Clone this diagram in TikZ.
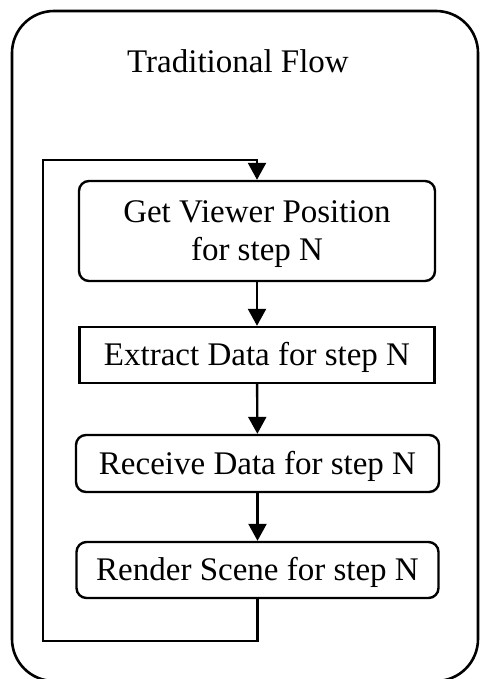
\documentclass[tikz,border=0pt]{standalone}
\usepackage{fontspec}
\setmainfont{Liberation Serif}
\usetikzlibrary{arrows.meta}
\begin{document}
\begin{tikzpicture}[x=1pt,y=-1pt,
  line width=2.4pt,
  stepbox/.style={draw, inner sep=0pt, font=\fontsize{33}{38}\selectfont, align=center},
  roundbox/.style={stepbox, rounded corners=10pt},
  oneline/.style={text height=21pt, text depth=0pt},
  flow/.style={-{Triangle[length=17pt,width=18pt]}}]
  \useasboundingbox (0,0) rectangle (479,679);

  % outer frame
  \draw[line width=2.6pt, rounded corners=42pt] (12,11) rectangle (478,681);

  % title
  \node[font=\fontsize{33}{38}\selectfont, anchor=base] (title) at (238,73) {Traditional Flow};

  % the four steps
  \node[roundbox, text depth=0pt, minimum width=356pt, minimum height=100pt] (view) at (257,231)
    {Get Viewer Position\\for step N};
  \node[stepbox, oneline, minimum width=355pt, minimum height=56pt] (extract) at (257,355)
    {Extract Data for step N};
  \node[roundbox, oneline, minimum width=363pt, minimum height=57pt] (receive) at (257.5,463.5)
    {Receive Data for step N};
  \node[roundbox, oneline, minimum width=362pt, minimum height=56pt] (render) at (257.5,570)
    {Render Scene for step N};

  % connectors
  \draw[flow] (view) -- (extract);
  \draw[flow] (extract) -- (receive);
  \draw[flow] (receive) -- (render);

  % feedback loop back to the first step
  \coordinate (c1) at (257.5,641);
  \coordinate (c2) at (43,641);
  \coordinate (c3) at (43,160);
  \coordinate (c4) at (257,160);
  \draw[flow] (render.south) -- (c1) -- (c2) -- (c3) -- (c4) -- (view.north);
\end{tikzpicture}
\end{document}
